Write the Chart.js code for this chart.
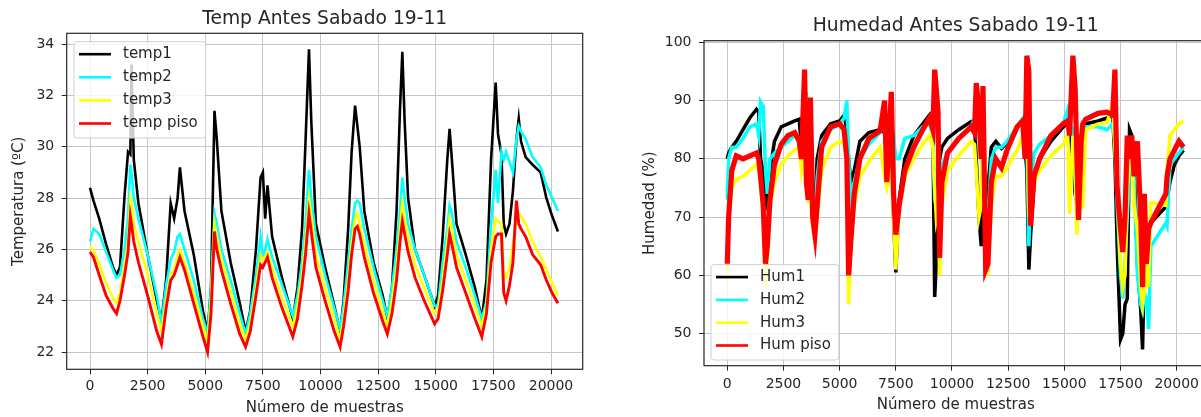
<!DOCTYPE html>
<html>
<head>
<meta charset="utf-8">
<title>Temp / Humedad Antes Sabado 19-11</title>
<script src="https://cdn.jsdelivr.net/npm/chart.js@4.4.0/dist/chart.umd.min.js"></script>
<style>
  html, body { margin: 0; padding: 0; background: #fff; overflow: hidden; }
  #wrap { position: relative; width: 1201px; height: 417px; overflow: hidden; }
  #tempChart { position: absolute; left: 0; top: 0; }
  #humChart { position: absolute; left: 600px; top: 0; }
</style>
</head>
<body>
<div id="wrap">
  <canvas id="tempChart" width="600" height="417"></canvas>
  <canvas id="humChart" width="620" height="417"></canvas>
</div>
<script>
// ---- tick labels ----
const xTicks = [0, 2500, 5000, 7500, 10000, 12500, 15000, 17500, 20000];
const tempTicks = [22, 24, 26, 28, 30, 32, 34];
const humTicks = [50, 60, 70, 80, 90, 100];

// ---- temperatura (muestra -> ºC) ----
const tempX = [0, 150, 400, 700, 1000, 1150, 1300, 1500, 1650, 1750,
  1800, 1900, 2100, 2500, 2900, 3100, 3300, 3500, 3650, 3800,
  3900, 4100, 4500, 4900, 5100, 5250, 5400, 5500, 5700, 6100,
  6500, 6750, 6950, 7200, 7400, 7500, 7600, 7700, 7900, 8300,
  8800, 9000, 9200, 9350, 9500, 9600, 9800, 10200, 10600, 10850,
  11000, 11200, 11350, 11500, 11600, 11700, 11900, 12300, 12700, 12900,
  13100, 13300, 13450, 13550, 13650, 13800, 14100, 14500, 14950, 15100,
  15300, 15500, 15600, 15700, 15900, 16300, 16700, 17000, 17200, 17400,
  17600, 17700, 17850, 17950, 18050, 18200, 18350, 18500, 18600, 18700,
  18900, 19200, 19550, 19800, 20050, 20300];

const temp1 = [28.4, 27.9, 27.2, 26.2, 25.3, 25.0, 25.3, 28.1, 29.8, 29.7,
  33.2, 29.5, 27.8, 25.8, 24.0, 23.2, 24.8, 27.8, 27.2, 28.0,
  29.2, 27.5, 25.8, 23.6, 22.8, 24.5, 31.4, 30.3, 27.5, 25.5,
  23.9, 22.8, 23.6, 26.0, 28.8, 29.0, 27.2, 28.5, 26.5, 25.0,
  23.3, 24.5, 26.8, 30.2, 33.8, 31.0, 27.0, 25.3, 23.8, 22.8,
  24.0, 26.8, 29.8, 31.6, 30.8, 30.0, 27.5, 25.5, 24.2, 23.3,
  24.5, 27.5, 31.5, 33.7, 31.0, 28.0, 26.0, 25.0, 23.8, 24.2,
  26.5, 29.5, 30.7, 29.5, 27.0, 25.8, 24.5, 23.3, 24.8, 29.5,
  32.5, 30.5, 29.7, 27.0, 26.6, 27.0, 28.3, 30.3, 31.1, 30.2,
  29.6, 29.3, 29.0, 28.0, 27.3, 26.7];

const temp2 = [26.3, 26.8, 26.6, 25.9, 25.2, 24.9, 25.0, 26.0, 27.3, 29.3,
  29.0, 28.0, 27.2, 25.8, 24.2, 23.1, 24.6, 25.6, 25.9, 26.5,
  26.6, 26.0, 24.8, 23.3, 22.7, 24.5, 27.4, 27.0, 26.0, 24.8,
  23.5, 22.7, 23.5, 25.0, 26.5, 25.7, 26.0, 26.4, 25.7, 24.7,
  23.4, 24.2, 25.5, 27.0, 29.1, 28.0, 26.5, 25.0, 23.7, 22.9,
  23.8, 25.5, 26.8, 27.8, 27.9, 27.8, 26.8, 25.3, 24.0, 23.4,
  24.5, 26.0, 27.5, 28.8, 28.0, 27.0, 26.0, 25.0, 23.8, 23.8,
  25.5, 26.8, 27.7, 27.4, 26.3, 25.3, 24.2, 23.3, 24.0, 27.0,
  29.1, 27.8, 29.8, 29.5, 29.8, 29.4, 29.0, 30.3, 30.8, 30.6,
  30.3, 29.6, 29.2, 28.5, 28.0, 27.5];

const temp3 = [26.1, 26.0, 25.4, 24.7, 24.1, 23.9, 24.3, 25.4, 26.3, 28.0,
  27.8, 27.0, 26.3, 25.0, 23.5, 22.8, 24.0, 25.0, 25.2, 25.8,
  26.0, 25.5, 24.3, 23.0, 22.4, 24.0, 27.0, 26.5, 25.6, 24.4,
  23.1, 22.5, 23.1, 24.5, 25.8, 25.6, 25.7, 25.9, 25.3, 24.2,
  23.0, 23.8, 25.0, 26.3, 28.0, 27.3, 25.8, 24.5, 23.3, 22.5,
  23.3, 24.8, 26.2, 27.2, 27.4, 27.0, 26.2, 24.8, 23.6, 23.0,
  24.0, 25.3, 26.8, 27.8, 27.2, 26.5, 25.4, 24.5, 23.5, 23.6,
  24.8, 26.3, 27.2, 26.8, 25.8, 24.8, 23.8, 23.0, 23.8, 26.0,
  27.2, 27.1, 27.0, 25.0, 24.9, 25.3, 26.2, 27.2, 27.4, 27.3,
  27.0, 26.3, 25.7, 25.2, 24.7, 24.2];

const tempPiso = [25.9, 25.7, 25.0, 24.2, 23.7, 23.5, 24.0, 25.0, 25.9, 27.3,
  27.0, 26.3, 25.5, 24.2, 22.8, 22.3, 23.7, 24.8, 25.0, 25.4,
  25.7, 25.2, 23.9, 22.6, 22.0, 23.5, 26.7, 26.0, 25.2, 23.9,
  22.7, 22.2, 22.8, 24.2, 25.4, 25.3, 25.5, 25.7, 24.9, 23.8,
  22.6, 23.3, 24.6, 25.8, 27.4, 26.7, 25.3, 24.0, 22.8, 22.2,
  23.0, 24.4, 25.8, 26.8, 26.9, 26.6, 25.7, 24.3, 23.2, 22.7,
  23.5, 24.8, 26.3, 27.1, 26.6, 25.9, 24.9, 24.0, 23.1, 23.3,
  24.4, 25.8, 26.6, 26.2, 25.3, 24.3, 23.3, 22.6, 23.5, 25.5,
  26.5, 26.6, 26.6, 24.3, 24.0, 24.6, 25.5, 27.9, 27.0, 26.8,
  26.5, 25.8, 25.4, 24.8, 24.3, 23.9];

// ---- humedad (muestra -> %) ----
const humX = [0, 60, 200, 400, 700, 1000, 1300, 1400, 1480, 1600,
  1700, 1780, 1900, 2100, 2400, 2700, 3000, 3200, 3300, 3440,
  3520, 3600, 3700, 3800, 3900, 4000, 4200, 4600, 5000, 5200,
  5320, 5400, 5500, 5650, 5900, 6300, 6800, 7000, 7100, 7300,
  7400, 7500, 7650, 7900, 8300, 8700, 9000, 9150, 9230, 9300,
  9380, 9450, 9550, 9800, 10300, 10850, 11000, 11080, 11200, 11300,
  11380, 11500, 11600, 11750, 11950, 12200, 12450, 12900, 13150, 13250,
  13330, 13420, 13500, 13650, 13900, 14400, 14950, 15150, 15230, 15380,
  15480, 15560, 15630, 15750, 15820, 15950, 16500, 16900, 17150, 17250,
  17350, 17500, 17600, 17700, 17800, 17900, 18000, 18100, 18250, 18400,
  18480, 18560, 18650, 18750, 18850, 19520, 19570, 19700, 19900, 20100, 20300];

const hum1 = [80, 81, 82, 83, 85, 87, 88.5, 88, 80, 78,
  72, 74, 78, 83, 85.5, 86, 86.5, 86.8, 82, 85,
  80, 82, 80, 75, 72, 80, 84, 86, 86.5, 87.5,
  85, 80, 76, 78, 83, 84.5, 85, 84.5, 80, 82,
  70, 60.5, 73, 80, 84, 86, 87.5, 85, 56.3, 62,
  78, 80, 82, 83.5, 85, 86.4, 86, 80, 70, 65,
  75, 70, 75, 82, 83, 81.8, 82.7, 85.5, 86.3, 82,
  78, 61, 67, 76, 80, 83, 85.5, 86, 85, 80,
  74, 72, 80, 84, 85, 86, 86.5, 87, 87.5, 80,
  65, 49, 50, 55, 56, 85, 84, 80, 62, 54,
  47.3, 62, 66, 68, 69, 71.8, 73, 76, 79, 80.5, 81.5];

const hum2 = [73, 80, 82, 82, 83.5, 85.5, 86, 84, 89.8, 89,
  78, 74, 80, 81, 82, 83, 84, 83.5, 82, 88,
  91.5, 80, 78, 72, 70, 77, 83, 85, 86, 87,
  90, 80, 73, 76, 80, 82.5, 84.5, 86.5, 83, 85,
  84, 80, 80, 83.5, 84, 85.5, 86, 84, 73, 72,
  75, 76, 79, 81, 83.5, 85.5, 87, 88, 84, 80,
  82, 62, 70, 80, 82, 82, 83, 85.5, 87, 83,
  84, 65, 75, 81, 82.5, 84, 86, 88.5, 86, 85,
  76, 72, 74, 83, 84, 85.5, 85.5, 85, 86, 83,
  72, 60, 56, 62, 70, 78, 80, 77, 60, 55,
  54, 57, 56, 50.8, 65, 69, 68.5, 79, 80, 81, 82];

const hum3 = [60, 70, 75, 76.5, 77, 78, 79, 78, 76, 70,
  58, 63, 72, 76, 79, 80.5, 81.5, 82, 78, 82,
  74, 73, 74, 68, 66, 70, 78, 82, 83, 82.5,
  80, 55, 66, 72, 77, 79.5, 82, 77, 75, 78,
  70, 61, 72, 77, 80, 82.5, 84, 82, 75, 70,
  72, 60, 72, 78, 80.5, 83, 82.5, 78, 70, 72,
  88, 64, 60, 72, 77, 77, 78.5, 81.5, 84, 80,
  92, 70, 72, 76, 78, 80.5, 82.5, 84, 70.5, 84,
  78, 67, 74, 80, 71.5, 85, 86, 86.2, 89.5, 82,
  75, 62, 58, 60, 75, 80, 81, 72, 68, 58,
  55, 57, 62, 58, 72.5, 72, 78, 84, 85, 86, 86.5];

const humPiso = [62, 70, 78, 80.5, 80, 80.5, 81, 80, 77, 72,
  62, 65, 73, 79, 82.5, 84, 84.5, 83, 80, 95.3,
  76, 73, 90.5, 70, 67, 72, 82, 85.5, 86, 85,
  80, 60, 66, 74, 80, 83.5, 84.8, 90, 76, 91.5,
  74, 67, 72, 78, 82, 85, 87, 85, 95.3, 92,
  88, 63, 76, 81, 83.5, 85.5, 84.5, 93, 88, 80,
  92.5, 61, 62, 76, 80, 78.5, 81.5, 85.5, 86.5, 80,
  97.7, 95, 68.5, 77, 80, 84, 86, 86.5, 84, 97.7,
  92, 80, 69.5, 83, 86, 86.8, 87.8, 88, 87.5, 95.3,
  75, 68, 64, 70, 84, 80, 84, 77, 83, 70,
  58, 74, 62, 68, 69, 74, 77, 80, 81.5, 83, 82];

const FONT = "'DejaVu Sans', sans-serif";
const INK = '#262626';

function pairs(xs, ys) {
  return xs.map((x, i) => ({ x: x, y: ys[i] }));
}

// marco completo alrededor del area (matplotlib spines)
const frame = {
  id: 'frame',
  afterDatasetsDraw(chart) {
    const { ctx, chartArea: a } = chart;
    ctx.save();
    ctx.strokeStyle = INK;
    ctx.lineWidth = 1.2;
    ctx.strokeRect(a.left, a.top, a.right - a.left, a.bottom - a.top);
    ctx.restore();
  }
};

// leyenda dentro del area, estilo matplotlib
const boxLegend = {
  id: 'boxLegend',
  afterDraw(chart, args, opts) {
    const { ctx, chartArea: a } = chart;
    const sets = chart.data.datasets;
    ctx.save();
    ctx.font = opts.size + 'px ' + FONT;
    const textW = Math.max.apply(null, sets.map(d => ctx.measureText(d.label).width));
    const rowH = opts.rowH;
    const w = 49 + textW + 8;
    const h = 12.5 + rowH * (sets.length - 1) + 14.5;
    const x = a.left + opts.dx;
    const y = opts.corner === 'top' ? a.top + opts.dy : a.bottom - opts.dy - h;
    ctx.beginPath();
    ctx.roundRect(x, y, w, h, 3);
    ctx.fillStyle = 'rgba(255,255,255,0.8)';
    ctx.fill();
    ctx.strokeStyle = '#d0d0d0';
    ctx.lineWidth = 1;
    ctx.stroke();
    sets.forEach((d, i) => {
      const cy = y + 12.5 + i * rowH;
      ctx.beginPath();
      ctx.moveTo(x + 5, cy);
      ctx.lineTo(x + 37, cy);
      ctx.strokeStyle = d.borderColor;
      ctx.lineWidth = 2.6;
      ctx.stroke();
      ctx.fillStyle = INK;
      ctx.textBaseline = 'middle';
      ctx.fillText(d.label, x + 49, cy);
    });
    ctx.restore();
  }
};

function axisOpts(o) {
  return {
    type: 'linear',
    min: o.min,
    max: o.max,
    afterBuildTicks: s => { s.ticks = o.ticks.map(v => ({ value: v })); },
    afterFit: s => { if (o.width) s.width = o.width; if (o.height) s.height = o.height; },
    grid: { color: '#c6c6c6', lineWidth: 1, drawTicks: true, tickLength: 5, tickColor: INK },
    border: { display: false },
    ticks: {
      color: INK, font: { family: FONT, size: 14 }, padding: o.pad,
      autoSkip: false, maxRotation: 0, callback: v => String(v)
    },
    title: {
      display: true, text: o.title, color: INK,
      font: { family: FONT, size: 15 }, padding: o.titlePad
    }
  };
}

function makeChart(id, t) {
  return new Chart(document.getElementById(id), {
    type: 'line',
    data: { datasets: t.datasets },
    options: {
      responsive: false,
      animation: false,
      events: [],
      layout: { padding: t.padding },
      elements: { point: { radius: 0 }, line: { tension: 0 } },
      plugins: {
        legend: { display: false },
        tooltip: { enabled: false },
        title: {
          display: true, text: t.title, color: INK, fullSize: false,
          font: { family: FONT, size: 18.7, weight: 'normal' },
          padding: t.titlePad
        },
        boxLegend: t.legend
      },
      scales: { x: t.x, y: t.y }
    },
    plugins: [frame, boxLegend]
  });
}

makeChart('tempChart', {
  title: 'Temp Antes Sabado 19-11',
  titlePad: { top: 7.8, bottom: 3.06 },
  padding: { left: 0, right: 17.3, top: 0, bottom: 0 },
  legend: { corner: 'top', dx: 7.3, dy: 8.4, rowH: 23.1, size: 15 },
  datasets: [
    { label: 'temp1', data: pairs(tempX, temp1), borderColor: '#000000', borderWidth: 2.6, order: 3 },
    { label: 'temp2', data: pairs(tempX, temp2), borderColor: '#00ffff', borderWidth: 2.6, order: 2 },
    { label: 'temp3', data: pairs(tempX, temp3), borderColor: '#ffff00', borderWidth: 2.6, order: 1 },
    { label: 'temp piso', data: pairs(tempX, tempPiso), borderColor: '#ff0000', borderWidth: 2.9, order: 0 }
  ],
  x: axisOpts({ min: -1011, max: 21375, ticks: xTicks, height: 47.7, pad: 4,
    title: 'Número de muestras', titlePad: { top: 0, bottom: 0 } }),
  y: axisOpts({ min: 21.33, max: 34.42, ticks: tempTicks, width: 66.7, pad: 7.5,
    title: 'Temperatura (ºC)', titlePad: { top: 10, bottom: 0 } })
});

makeChart('humChart', {
  title: 'Humedad Antes Sabado 19-11',
  titlePad: { top: 14.8, bottom: 3.46 },
  padding: { left: 0, right: 12.5, top: 0, bottom: 0 },
  legend: { corner: 'bottom', dx: 7, dy: 5.7, rowH: 22.8, size: 15 },
  datasets: [
    { label: 'Hum1', data: pairs(humX, hum1), borderColor: '#000000', borderWidth: 3.5, order: 3 },
    { label: 'Hum2', data: pairs(humX, hum2), borderColor: '#00ffff', borderWidth: 3.5, order: 2 },
    { label: 'Hum3', data: pairs(humX, hum3), borderColor: '#ffff00', borderWidth: 3.5, order: 1 },
    { label: 'Hum piso', data: pairs(humX, humPiso), borderColor: '#ff0000', borderWidth: 5.2, order: 0 }
  ],
  x: axisOpts({ min: -1036, max: 21370, ticks: xTicks, height: 51.3, pad: 4.9,
    title: 'Número de muestras', titlePad: { top: 0, bottom: 3 } }),
  y: axisOpts({ min: 44.5, max: 100.27, ticks: humTicks, width: 104, pad: 7.5,
    title: 'Humedad (%)', titlePad: { top: 41, bottom: 0 } })
});
</script>
</body>
</html>
